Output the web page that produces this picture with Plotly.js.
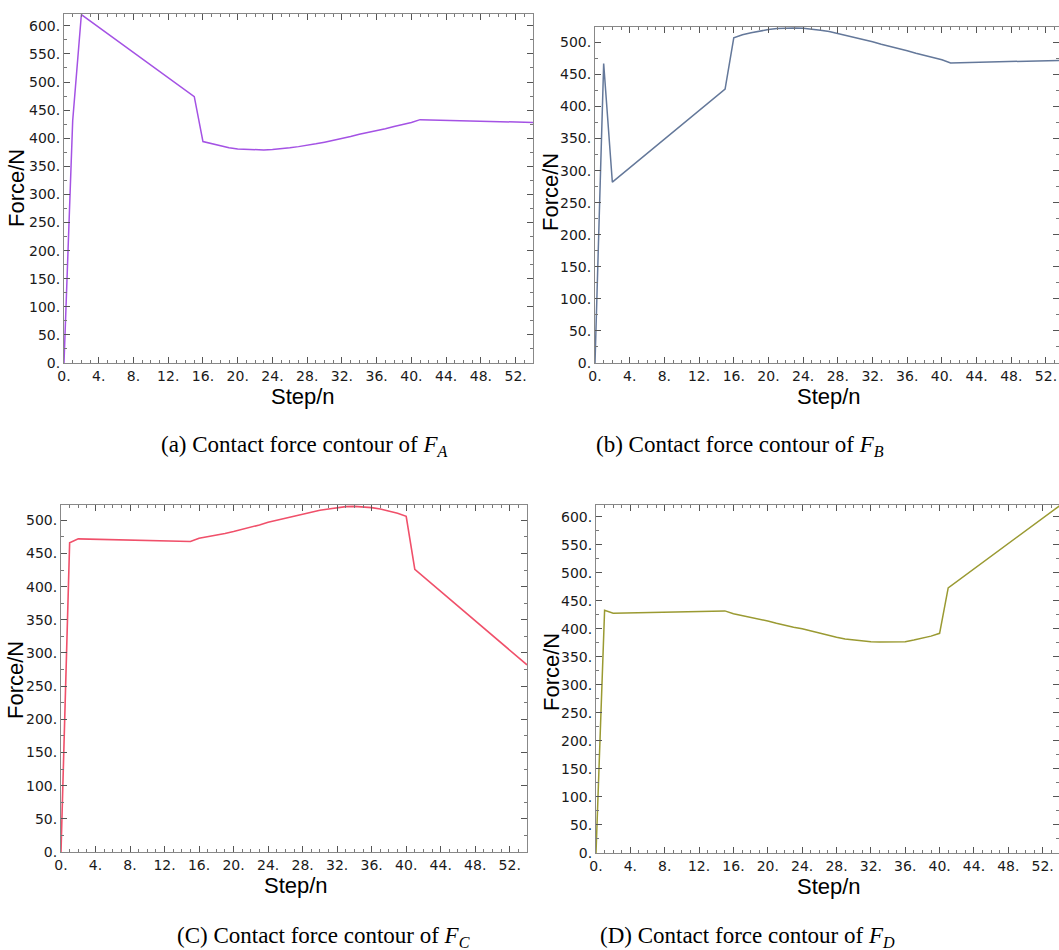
<!DOCTYPE html>
<html>
<head>
<meta charset="utf-8">
<script src="https://cdn.plot.ly/plotly-3.0.1.min.js"></script>
<style>html,body{margin:0;padding:0;background:#fff;}#chart{width:1059px;height:950px;}</style>
</head>
<body>
<div id="chart"></div>
<script>
// Step values (x) and contact forces (N)
const stepA = [0, 1, 2, 15, 16, 17, 18, 19, 20, 21, 22, 23, 24, 25, 26, 27, 28, 29, 30, 31, 32, 33, 34, 35, 36, 37, 38, 39, 40, 41, 54];
const forceA = [0, 431, 620, 474, 394, 390, 386, 383, 381, 380, 379, 379, 380, 381, 383, 385, 387, 390, 393, 396, 400, 403, 407, 410, 414, 417, 421, 424, 428, 433, 428];

const stepB = [0, 1, 2, 15, 16, 17, 18, 19, 20, 21, 22, 23, 24, 25, 26, 27, 28, 29, 30, 31, 32, 33, 34, 35, 36, 37, 38, 39, 40, 41, 54];
const forceB = [0, 467, 282, 427, 507, 512, 515, 518, 520, 521.5, 522.5, 522.5, 522, 521, 519, 517, 514, 510, 507, 504, 501, 497, 494, 490, 487, 483, 480, 476, 473, 468, 472];

const stepC = [0, 1, 2, 15, 16, 17, 18, 19, 20, 21, 22, 23, 24, 25, 26, 27, 28, 29, 30, 31, 32, 33, 34, 35, 36, 37, 38, 39, 40, 41, 54];
const forceC = [0, 466, 472, 468, 473, 475, 477, 480, 483, 486, 490, 493, 497, 500, 504, 507, 510, 513, 515, 517, 519, 520.5, 521, 520.5, 519, 517, 514, 510.5, 506, 426, 282];

const stepD = [0, 1, 2, 15, 16, 17, 18, 19, 20, 21, 22, 23, 24, 25, 26, 27, 28, 29, 30, 31, 32, 33, 34, 35, 36, 37, 38, 39, 40, 41, 54];
const forceD = [0, 433, 428, 432, 427, 424, 420, 417, 414, 410, 406, 403, 400, 396, 392, 388, 385, 382, 380, 378.5, 377, 376.5, 376.5, 376.5, 377, 380, 383, 387, 392, 473, 620];

const xTickVals = [0, 4, 8, 12, 16, 20, 24, 28, 32, 36, 40, 44, 48, 52];
const xTickText = ["0.", "4.", "8.", "12.", "16.", "20.", "24.", "28.", "32.", "36.", "40.", "44.", "48.", "52."];
const yTickVals = [0, 50, 100, 150, 200, 250, 300, 350, 400, 450, 500, 550, 600];
const yTickText = ["0.", "50.", "100.", "150.", "200.", "250.", "300.", "350.", "400.", "450.", "500.", "550.", "600."];

const xTitle = "Step/n";
const yTitle = "Force/N";
const captions = [
  "(a) Contact force contour of <i>F</i><sub><i>A</i></sub>",
  "(b) Contact force contour of <i>F</i><sub><i>B</i></sub>",
  "(C) Contact force contour of <i>F</i><sub><i>C</i></sub>",
  "(D) Contact force contour of <i>F</i><sub><i>D</i></sub>"
];

const W = 1059, H = 950;
function px2x(p){ return p / W; }
function px2y(p){ return 1 - p / H; }

const traces = [
  {x: stepA, y: forceA, xaxis: 'x', yaxis: 'y', line: {color: '#a452e4', width: 1.5}},
  {x: stepB, y: forceB, xaxis: 'x2', yaxis: 'y2', line: {color: '#64789a', width: 1.5}},
  {x: stepC, y: forceC, xaxis: 'x3', yaxis: 'y3', line: {color: '#f0506a', width: 1.6}},
  {x: stepD, y: forceD, xaxis: 'x4', yaxis: 'y4', line: {color: '#9a9a32', width: 1.5}}
].map(t => Object.assign({type: 'scatter', mode: 'lines', showlegend: false, hoverinfo: 'skip'}, t));

const tickFont = {family: 'DejaVu Sans', size: 14, color: '#1a1a1a'};
const titleFont = {family: 'Liberation Sans, Arial, sans-serif', size: 22, color: '#000'};

function xAxis(dom, range, anchor){
  return {
    domain: [px2x(dom[0]), Math.min(1, px2x(dom[1]))], range: range, anchor: anchor,
    tickvals: xTickVals, ticktext: xTickText, tickfont: tickFont,
    ticks: 'inside', ticklen: 6, tickcolor: '#555', tickwidth: 1,
    minor: {ticks: 'inside', ticklen: 3, dtick: 1, tick0: 0, tickcolor: '#777', showgrid: false},
    showline: true, linecolor: '#888', linewidth: 1, mirror: 'ticks',
    showgrid: false, zeroline: false, automargin: false
  };
}
function yAxis(dom, range, anchor){
  return {
    domain: [px2y(dom[1]), px2y(dom[0])], range: range, anchor: anchor,
    tickvals: yTickVals, ticktext: yTickText, tickfont: tickFont,
    ticks: 'inside', ticklen: 6, tickcolor: '#555', tickwidth: 1,
    minor: {ticks: 'inside', ticklen: 3, dtick: 25, tick0: 0, tickcolor: '#777', showgrid: false},
    showline: true, linecolor: '#888', linewidth: 1, mirror: 'ticks',
    showgrid: false, zeroline: false, automargin: false
  };
}

const capFont = {family: 'Liberation Serif, Times New Roman, serif', size: 23, color: '#000'};
const annBase = {xref: 'paper', yref: 'paper', showarrow: false, xanchor: 'center', yanchor: 'middle', borderpad: 0};

const annotations = [
  {text: captions[0], x: px2x(304), y: px2y(446), font: capFont},
  {text: captions[1], x: px2x(740), y: px2y(446), font: capFont},
  {text: captions[2], x: px2x(323), y: px2y(937), font: capFont},
  {text: captions[3], x: px2x(747), y: px2y(937), font: capFont},
  {text: xTitle, x: px2x(303), y: px2y(396), font: titleFont},
  {text: xTitle, x: px2x(829), y: px2y(396), font: titleFont},
  {text: xTitle, x: px2x(296), y: px2y(885), font: titleFont},
  {text: xTitle, x: px2x(829), y: px2y(886), font: titleFont},
  {text: yTitle, x: px2x(17), y: px2y(188), textangle: -90, font: titleFont},
  {text: yTitle, x: px2x(550), y: px2y(192), textangle: -90, font: titleFont},
  {text: yTitle, x: px2x(15), y: px2y(680), textangle: -90, font: titleFont},
  {text: yTitle, x: px2x(551), y: px2y(672), textangle: -90, font: titleFont}
].map(a => Object.assign({}, annBase, a));

const layout = {
  width: W, height: H,
  margin: {l: 0, r: 0, t: 0, b: 0},
  paper_bgcolor: '#fff', plot_bgcolor: '#fff',
  xaxis:  xAxis([64, 533], [0, 54], 'y'),
  yaxis:  yAxis([14, 363], [0, 621], 'x'),
  xaxis2: xAxis([595, 1059], [0, 53.5], 'y2'),
  yaxis2: yAxis([27, 363], [0, 524], 'x2'),
  xaxis3: xAxis([61, 527], [0, 54], 'y3'),
  yaxis3: yAxis([505, 852], [0, 523], 'x3'),
  xaxis4: xAxis([596, 1059], [0, 53.9], 'y4'),
  yaxis4: yAxis([505, 853], [0, 621], 'x4'),
  annotations: annotations
};

Plotly.newPlot('chart', traces, layout, {staticPlot: true, displayModeBar: false});
</script>
</body>
</html>
